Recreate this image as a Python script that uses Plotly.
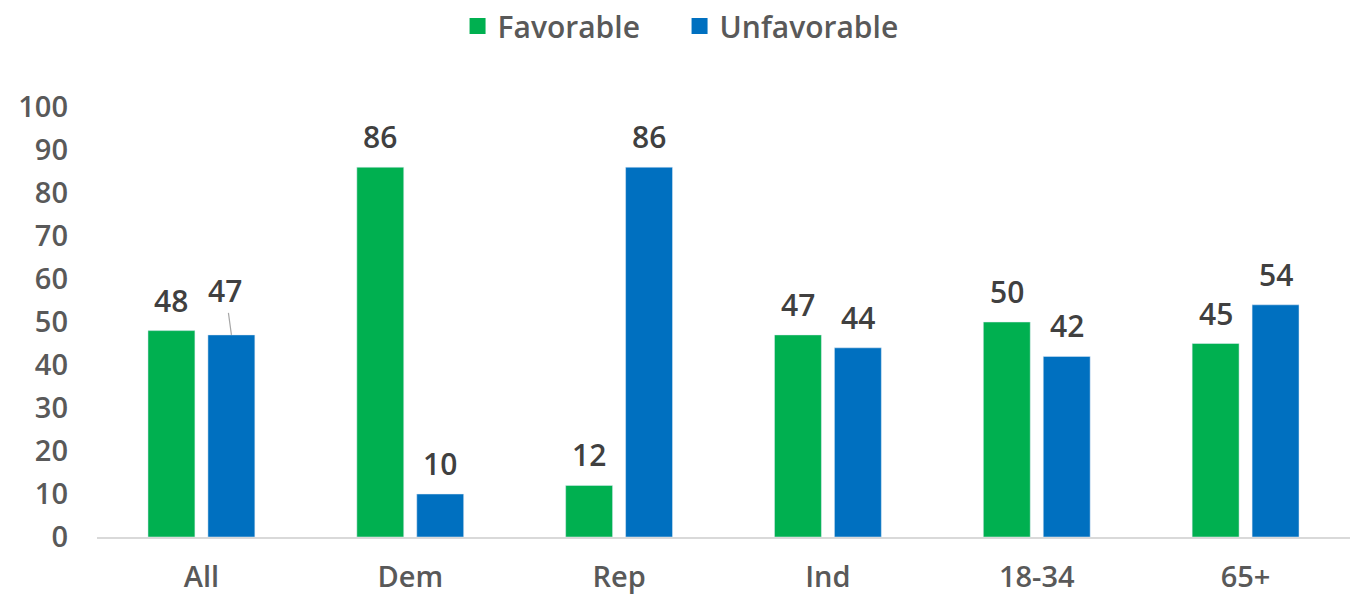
import plotly.graph_objects as go

categories = ["All", "Dem", "Rep", "Ind", "18-34", "65+"]
favorable = [48, 86, 12, 47, 50, 45]
unfavorable = [47, 10, 86, 44, 42, 54]
y_ticks = [0, 10, 20, 30, 40, 50, 60, 70, 80, 90, 100]

FONT = "Open Sans"
GREEN = "#00B050"
BLUE = "#0070C0"
LABEL = dict(size=30, color="#404040", family=FONT, weight=600)

fig = go.Figure()
fig.add_trace(go.Bar(name="Favorable", x=categories, y=favorable, marker_color=GREEN,
                     showlegend=False))
fig.add_trace(go.Bar(name="Unfavorable", x=categories, y=unfavorable, marker_color=BLUE,
                     showlegend=False))
# legend proxies with larger square swatches
fig.add_trace(go.Scatter(name="Favorable", x=[None], y=[None], mode="markers",
                         marker=dict(symbol="square", size=18, color=GREEN)))
fig.add_trace(go.Scatter(name="Unfavorable", x=[None], y=[None], mode="markers",
                         marker=dict(symbol="square", size=18, color=BLUE)))

for c, v in zip(categories, favorable):
    fig.add_annotation(x=c, y=v, xshift=-30, yshift=8, yanchor="bottom",
                       text=str(v), showarrow=False, font=LABEL)
for c, v in zip(categories, unfavorable):
    if c == "All":
        fig.add_annotation(x=c, y=v, xshift=30, text=str(v), showarrow=True,
                           arrowhead=0, arrowwidth=1.2, arrowcolor="#A6A6A6",
                           ax=-6, ay=-44, standoff=0, font=LABEL)
    else:
        fig.add_annotation(x=c, y=v, xshift=30, yshift=8, yanchor="bottom",
                           text=str(v), showarrow=False, font=LABEL)

fig.update_layout(
    width=1351, height=597,
    margin=dict(l=97, r=1, t=107, b=60),
    plot_bgcolor="white", paper_bgcolor="white",
    barmode="group", bargap=0.426, bargroupgap=0.217,
    showlegend=True,
    legend=dict(orientation="h", x=0.503, xref="container", xanchor="center",
                y=1.0, yref="container", yanchor="top",
                font=dict(size=30, color="#595959", family=FONT, weight=600),
                traceorder="normal", itemsizing="trace", entrywidth=177),
    font=dict(family=FONT),
)
fig.update_xaxes(
    showline=True, linecolor="#D9D9D9", linewidth=1.5, showgrid=False,
    tickfont=dict(size=29, color="#595959", family=FONT, weight=600),
    ticks="", ticklabelstandoff=13, automargin=False,
)
fig.update_yaxes(
    range=[0, 100], tickvals=y_ticks, showgrid=False, zeroline=False,
    showline=False, automargin=False,
    tickfont=dict(size=29, color="#595959", family=FONT, weight=600),
    ticklabelstandoff=28,
)

fig.write_html("out.html", config={"displayModeBar": False},
               post_script="document.body.style.margin='0';")
